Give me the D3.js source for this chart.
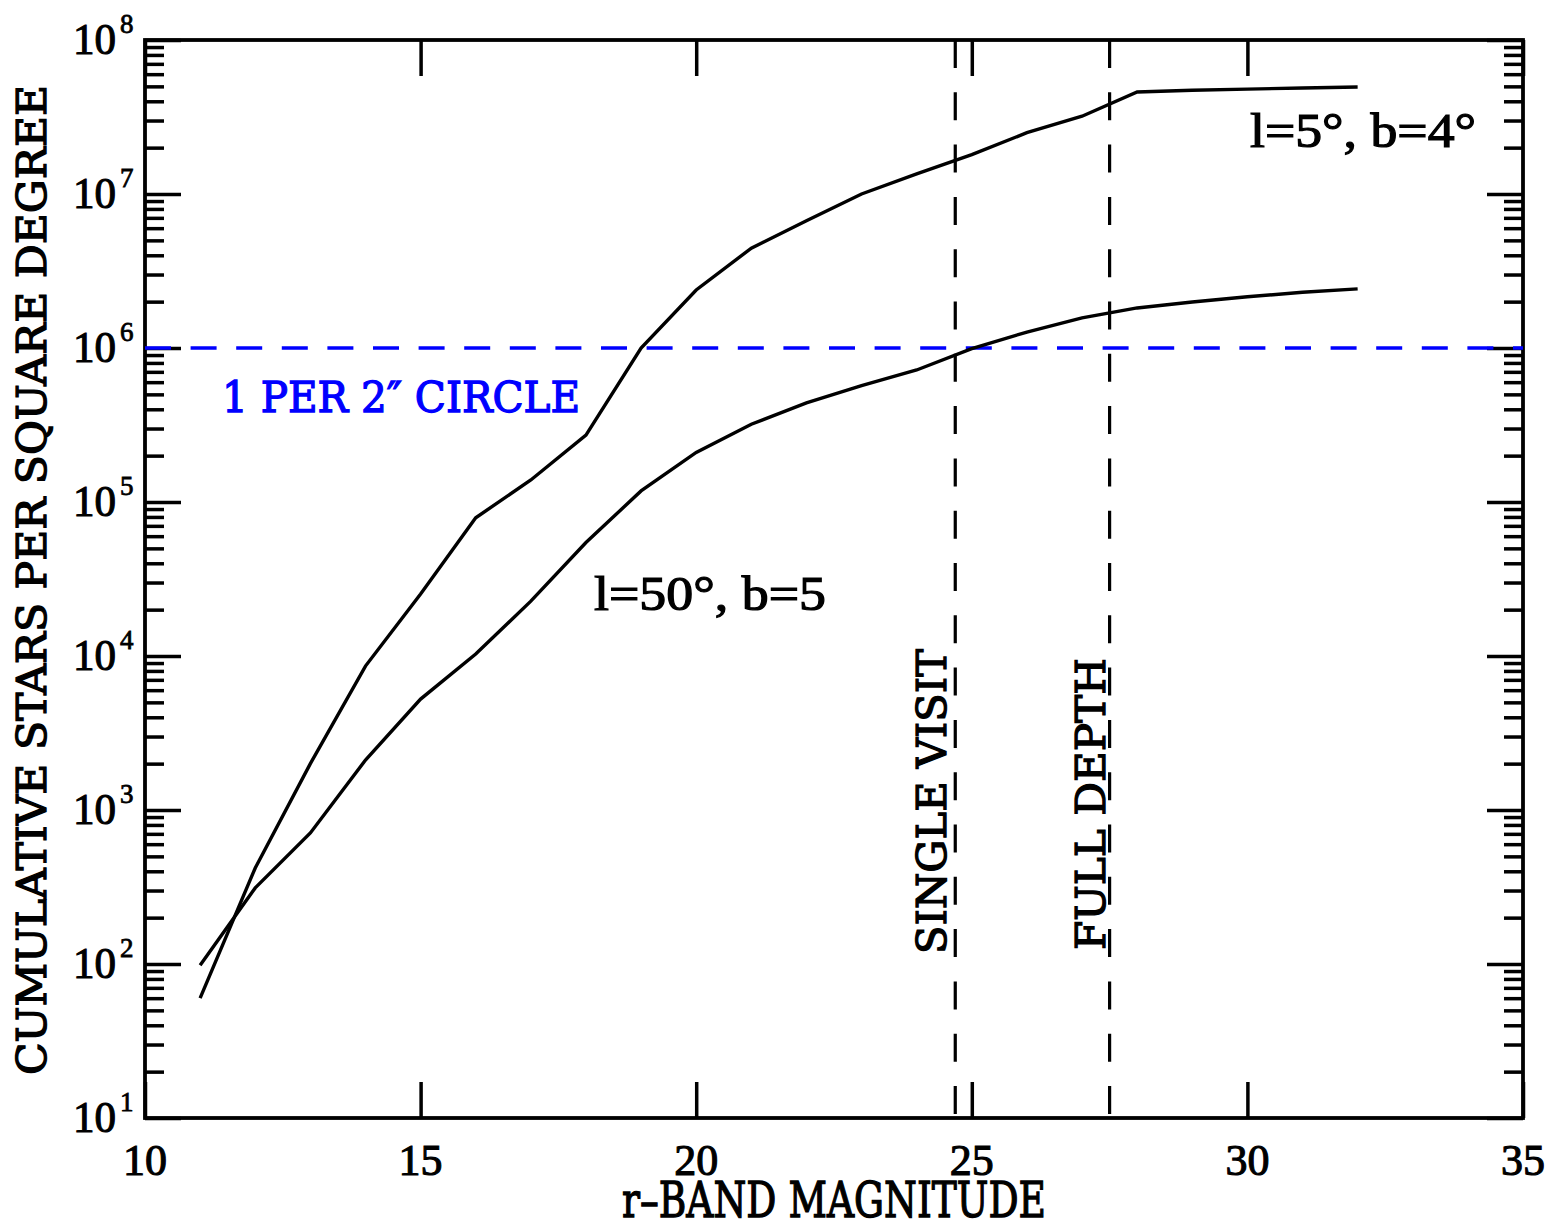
<!DOCTYPE html>
<html>
<head>
<meta charset="utf-8">
<script src="https://cdn.jsdelivr.net/npm/d3@7"></script>
<style>
  html, body { margin: 0; padding: 0; background: #ffffff; }
  svg { display: block; }
</style>
</head>
<body>
<svg id="chart" width="1558" height="1230"></svg>
<script>
// ---------------- data ----------------
const magnitudes = [11, 12, 13, 14, 15, 16, 17, 18, 19, 20, 21, 22, 23, 24, 25, 26, 27, 28, 29, 30, 31, 32];
const starsL5B4 = [60, 420, 2000, 8600, 25300, 79000, 139000, 272000, 1000000, 2380000, 4450000,
                   6700000, 1.0e7, 1.35e7, 1.8e7, 2.5e7, 3.2e7, 4.6e7, 4.72e7, 4.8e7, 4.88e7, 4.95e7];
const starsL50B5 = [98, 312, 710, 2110, 5250, 10300, 22700, 54600, 118000, 210000, 320000,
                    440000, 570000, 720000, 990000, 1270000, 1570000, 1820000, 1990000, 2150000, 2300000, 2420000];
const xTicks = [10, 15, 20, 25, 30, 35];
const yExponents = [1, 2, 3, 4, 5, 6, 7, 8];
const densityLimit = 1e6;            // 1 per 2" circle
const depthLines = [24.7, 27.5];     // single visit, full depth
const depthLabels = ["SINGLE VISIT", "FULL DEPTH"];
const xTitle = "r\u2013BAND MAGNITUDE";
const yTitle = "CUMULATIVE STARS PER SQUARE DEGREE";
const limitLabel = "1 PER 2\u2033 CIRCLE";
const curveLabels = ["l=5\u00b0, b=4\u00b0", "l=50\u00b0, b=5"];

// ---------------- layout ----------------
const L = 145, R = 1523, T = 40, B = 1118;
const svg = d3.select("#chart");
const x = d3.scaleLinear().domain([10, 35]).range([L, R]);
const y = d3.scaleLog().domain([10, 1e8]).range([B, T]);

const slab = "'DejaVu Serif', 'Liberation Serif', serif";
const serif = "'Liberation Serif', 'DejaVu Serif', serif";

// minor/major y ticks
const minorY = [];
for (const e of yExponents.slice(0, -1)) for (let k = 2; k <= 9; k++) minorY.push(k * Math.pow(10, e));
const majorY = yExponents.map(e => Math.pow(10, e));

const g = svg.append("g");

function styleAxis(sel) {
  sel.select(".domain").remove();
  sel.selectAll("line").attr("stroke", "#000").attr("stroke-width", 3.5);
  sel.selectAll("text").remove();
}
g.append("g").attr("transform", `translate(${L},0)`)
  .call(d3.axisRight(y).tickValues(majorY).tickSize(36)).call(styleAxis);
g.append("g").attr("transform", `translate(${L},0)`)
  .call(d3.axisRight(y).tickValues(minorY).tickSize(19)).call(styleAxis);
g.append("g").attr("transform", `translate(${R},0)`)
  .call(d3.axisLeft(y).tickValues(majorY).tickSize(36)).call(styleAxis);
g.append("g").attr("transform", `translate(${R},0)`)
  .call(d3.axisLeft(y).tickValues(minorY).tickSize(19)).call(styleAxis);
g.append("g").attr("transform", `translate(0,${B})`)
  .call(d3.axisTop(x).tickValues(xTicks).tickSize(36)).call(styleAxis);
g.append("g").attr("transform", `translate(0,${T})`)
  .call(d3.axisBottom(x).tickValues(xTicks).tickSize(36)).call(styleAxis);

// frame
g.append("rect").attr("x", L).attr("y", T).attr("width", R - L).attr("height", B - T)
  .attr("fill", "none").attr("stroke", "#000").attr("stroke-width", 3.8);

// x tick labels
g.selectAll(".xl").data(xTicks).enter().append("text")
  .attr("x", d => x(d)).attr("y", B + 57)
  .attr("text-anchor", "middle").attr("font-family", serif).attr("font-size", 44)
  .attr("stroke", "#000").attr("stroke-width", 1.1)
  .attr("textLength", 44).attr("lengthAdjust", "spacingAndGlyphs")
  .text(d => d);

// y tick labels 10^k
const yl = g.selectAll(".yl").data(majorY).enter().append("g");
yl.append("text").attr("x", 116).attr("y", d => y(d) + 14)
  .attr("text-anchor", "end").attr("font-family", serif).attr("font-size", 44)
  .attr("stroke", "#000").attr("stroke-width", 1.1)
  .attr("textLength", 43).attr("lengthAdjust", "spacingAndGlyphs").text("10");
yl.append("text").attr("x", 120).attr("y", d => y(d) - 7)
  .attr("text-anchor", "start").attr("font-family", serif).attr("font-size", 27)
  .attr("stroke", "#000").attr("stroke-width", 0.8)
  .text(d => Math.round(Math.log10(d)));

// density limit line
g.append("line").attr("x1", L).attr("x2", R).attr("y1", y(densityLimit)).attr("y2", y(densityLimit))
  .attr("stroke", "#0000ff").attr("stroke-width", 3.5).attr("stroke-dasharray", "26 19.6");

// depth lines
g.selectAll(".dl").data(depthLines).enter().append("line")
  .attr("x1", d => x(d)).attr("x2", d => x(d)).attr("y1", T).attr("y2", B)
  .attr("stroke", "#000").attr("stroke-width", 3.2).attr("stroke-dasharray", "28 24.3");

// curves
const line = d3.line().x((d, i) => x(magnitudes[i])).y(d => y(d));
[starsL5B4, starsL50B5].forEach(s => {
  g.append("path").datum(s).attr("d", line).attr("fill", "none")
    .attr("stroke", "#000").attr("stroke-width", 3.4).attr("stroke-linejoin", "miter");
});

// text helper
function label(txt, o) {
  const t = g.append("text")
    .attr("transform", `translate(${o.x},${o.y})` + (o.rot ? ` rotate(${o.rot})` : ""))
    .attr("font-family", o.family).attr("font-size", o.size)
    .attr("font-weight", o.weight || "normal")
    .attr("text-anchor", o.anchor || "start")
    .attr("fill", o.fill || "#000")
    .text(txt);
  if (o.sw) t.attr("stroke", o.fill || "#000").attr("stroke-width", o.sw);
  if (o.len) t.attr("textLength", o.len).attr("lengthAdjust", "spacingAndGlyphs");
  return t;
}

label(xTitle, { x: 834, y: 1217, size: 48, len: 424, anchor: "middle", family: slab, sw: 1.3 });
label(yTitle, { x: 46, y: 580, size: 41, len: 990, anchor: "middle", family: slab, sw: 1.3, rot: -90 });
label(limitLabel, { x: 222, y: 412, size: 43, len: 358, family: slab, sw: 1.3, fill: "#0000ff" });
label(depthLabels[0], { x: 946, y: 954, size: 41, len: 305, family: slab, sw: 1.3, rot: -90 });
label(depthLabels[1], { x: 1105, y: 950, size: 41, len: 292, family: slab, sw: 1.3, rot: -90 });
label(curveLabels[0], { x: 1250, y: 147, size: 48, len: 226, family: serif, sw: 1.2 });
label(curveLabels[1], { x: 594, y: 610, size: 48, len: 232, family: serif, sw: 1.2 });
</script>
</body>
</html>
